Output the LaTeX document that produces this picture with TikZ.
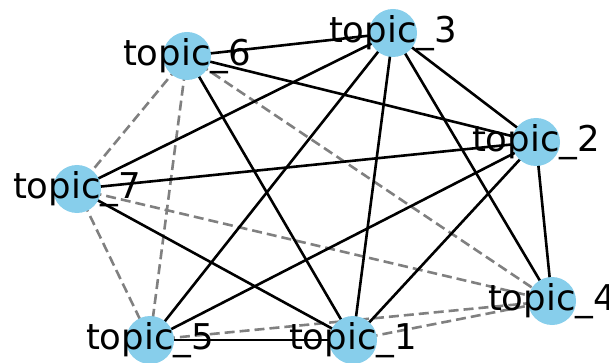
\documentclass[tikz,border=0pt]{standalone}
\usepackage{fontspec}
\setmainfont{DejaVu Sans}
\begin{document}
\begin{tikzpicture}[x=1pt,y=-1pt,
  topicnode/.style={circle,fill={rgb,255:red,135;green,206;blue,235},minimum size=48pt,inner sep=0pt},
  toplabel/.style={inner sep=0pt,font=\fontsize{35.5}{42}\selectfont,text=black},
  strong/.style={draw=black,line width=2.6pt},
  weak/.style={draw={rgb,255:red,128;green,128;blue,128},line width=2.6pt,dash pattern=on 10pt off 5pt}]
\useasboundingbox (0,0) rectangle (609,363);
\clip (0,0) rectangle (609,363);
\coordinate (p1) at (353,340);
\coordinate (p2) at (536,142);
\coordinate (p3) at (393,33);
\coordinate (p4) at (552,301);
\coordinate (p5) at (150,340);
\coordinate (p6) at (187,56);
\coordinate (p7) at (77,189);
% dashed edges
\draw[weak] (p6) -- (p7);
\draw[weak] (p6) -- (p5);
\draw[weak] (p6) -- (p4);
\draw[weak] (p7) -- (p5);
\draw[weak] (p7) -- (p4);
\draw[weak] (p5) -- (p4);
\draw[weak] (p1) -- (p4);
% solid edges
\draw[strong] (p6) -- (p3);
\draw[strong] (p6) -- (p2);
\draw[strong] (p6) -- (p1);
\draw[strong] (p3) -- (p7);
\draw[strong] (p3) -- (p5);
\draw[strong] (p3) -- (p1);
\draw[strong] (p3) -- (p2);
\draw[strong] (p3) -- (p4);
\draw[strong] (p7) -- (p2);
\draw[strong] (p7) -- (p1);
\draw[strong] (p2) -- (p5);
\draw[strong] (p2) -- (p1);
\draw[strong] (p2) -- (p4);
\draw[strong] (p5) -- (p1);
% nodes
\foreach \i in {1,...,7} {\node[topicnode] (n\i) at (p\i) {};}
\foreach \i in {1,...,7} {\node[toplabel] (l\i) at (p\i) {topic\_\i};}
\end{tikzpicture}
\end{document}
